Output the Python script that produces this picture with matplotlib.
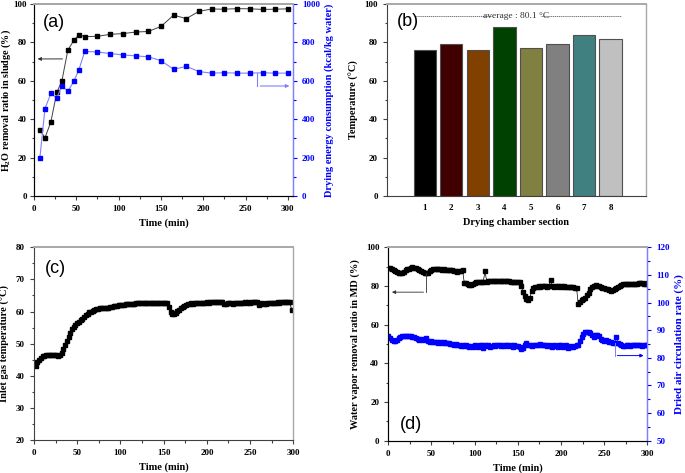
import numpy as np
import matplotlib.pyplot as plt
from matplotlib.ticker import AutoMinorLocator, MultipleLocator

plt.rcParams['font.family'] = 'Liberation Serif'
plt.rcParams['font.weight'] = 'bold'
plt.rcParams['mathtext.fontset'] = 'custom'
plt.rcParams['mathtext.rm'] = 'Liberation Serif:bold'
plt.rcParams['mathtext.bf'] = 'Liberation Serif:bold'

# (a) removal ratio and energy consumption
time_a = [7, 13, 20, 27, 33, 40, 47, 53, 60, 75, 90, 105, 120, 135, 150, 165, 180, 195,
          210, 225, 240, 255, 270, 285, 300]
removal_a = [34.5, 30.3, 38.7, 54.0, 60.0, 76.0, 81.0, 84.0, 83.0, 83.2, 84.2, 84.6, 85.4,
             85.7, 88.3, 94.2, 92.4, 96.2, 97.4, 97.3, 97.6, 97.5, 97.2, 97.3, 97.5]
energy_a = [200, 455, 535, 510, 575, 545, 597, 657, 753, 750, 742, 735, 730, 725, 705, 660,
            675, 648, 640, 642, 640, 640, 642, 640, 640]

# (b) chamber temperatures
sections = [1, 2, 3, 4, 5, 6, 7, 8]
temps_b = [76, 79, 76, 88, 77, 79, 84, 82]
bar_colors = ['#000000', '#400000', '#804000', '#004000', '#808040', '#808080', '#408080', '#c0c0c0']
avg_temp = 80.1

# (c) inlet gas temperature, every 2 min
time_c = list(range(2, 300, 2))
inlet_c = [43.0, 44.2, 45.0, 45.6, 46.0, 46.3, 46.5, 46.6, 46.6, 46.6,
           46.5, 46.5, 46.4, 46.3, 46.4, 47.0, 48.3, 49.6, 50.8, 52.0,
           53.4, 54.6, 55.3, 55.8, 56.3, 56.8, 57.3, 57.8, 58.4, 58.9,
           59.3, 59.7, 60.0, 60.3, 60.5, 60.7, 60.9, 61.0, 61.0, 61.0,
           61.0, 61.1, 61.2, 61.3, 61.5, 61.6, 61.7, 61.8, 61.9, 62.0,
           62.0, 62.1, 62.2, 62.2, 62.3, 62.3, 62.4, 62.4, 62.5, 62.5,
           62.5, 62.6, 62.5, 62.6, 62.6, 62.5, 62.6, 62.7, 62.6, 62.6,
           62.7, 62.6, 62.7, 62.8, 62.8, 62.7, 62.8, 61.5, 60.0, 59.3,
           59.2, 59.6, 60.1, 60.6, 61.0, 61.4, 61.8, 62.0, 62.2, 62.4,
           62.5, 62.4, 62.6, 62.5, 62.6, 62.7, 62.8, 62.7, 62.8, 62.9,
           62.8, 62.9, 63.0, 62.9, 63.0, 63.0, 62.9, 63.1, 63.0, 62.2,
           62.4, 62.6, 62.5, 62.6, 62.3, 62.5, 62.7, 62.6, 62.8, 62.7,
           62.8, 62.9, 62.8, 62.9, 62.8, 62.9, 63.0, 63.0, 62.9, 62.1,
           62.4, 62.6, 62.4, 62.3, 62.5, 62.6, 62.7, 62.8, 62.7, 62.8,
           62.9, 62.8, 62.9, 63.0, 62.9, 63.0, 63.0, 62.9, 60.5]

# (d) water vapor removal ratio and dried air circulation rate, every 2 min
time_d = list(range(0, 302, 2))
removal_d = [89.5, 89.3, 88.8, 88.2, 87.5, 87.0, 86.6, 86.5, 86.8, 87.4,
             88.0, 88.6, 89.0, 89.4, 89.6, 89.5, 89.2, 88.7, 88.2, 87.6,
             87.1, 86.8, 86.6, 86.9, 87.8, 88.5, 88.9, 89.0, 88.8, 88.7,
             88.6, 88.5, 88.6, 88.4, 88.5, 88.3, 88.4, 88.2, 87.8, 87.5,
             87.4, 87.6, 87.9, 88.0, 81.6, 81.5, 81.0, 80.5, 80.4, 81.0,
             81.6, 81.9, 82.1, 82.0, 82.2, 82.3, 87.5, 82.3, 82.4, 82.5,
             82.4, 82.6, 82.5, 82.7, 82.6, 82.7, 82.6, 82.6, 82.5, 82.4,
             82.4, 82.3, 82.2, 82.2, 82.0, 82.0, 81.8, 80.0, 77.0, 75.0,
             73.5, 73.0, 74.0, 77.5, 79.2, 79.6, 79.7, 79.8, 79.7, 79.8,
             79.9, 79.8, 79.7, 79.9, 83.0, 79.8, 79.7, 79.9, 79.8, 79.7,
             79.8, 79.6, 79.8, 79.7, 79.5, 79.6, 79.4, 79.3, 79.2, 79.0,
             70.5, 71.5, 72.5, 73.3, 74.0, 75.2, 76.5, 78.5, 79.6, 80.0,
             80.5, 80.2, 79.8, 79.4, 79.2, 79.0, 78.6, 78.2, 77.9, 77.5,
             77.8, 78.3, 78.8, 79.5, 80.2, 80.6, 81.0, 81.0, 80.9, 80.8,
             80.9, 80.8, 81.0, 81.1, 81.2, 81.5, 81.4, 81.3, 81.2, 81.2,
             81.3]
circulation_d = [87.8, 87.0, 86.3, 86.0, 86.2, 86.5, 87.2, 87.6, 87.8, 87.9,
                 88.0, 87.9, 87.8, 87.9, 87.6, 87.5, 87.2, 86.9, 86.6, 86.8,
                 86.5, 86.9, 87.0, 86.2, 85.9, 86.2, 85.6, 85.9, 85.6, 85.4,
                 85.6, 85.5, 85.6, 85.4, 85.3, 85.4, 85.1, 85.0, 84.8, 84.9,
                 84.5, 84.6, 84.4, 84.6, 84.3, 84.5, 84.3, 84.0, 84.4, 83.8,
                 84.6, 84.2, 83.8, 84.5, 84.8, 83.6, 84.7, 84.2, 84.5, 83.9,
                 84.4, 84.6, 84.2, 84.5, 84.7, 84.4, 84.6, 84.2, 84.5, 84.7,
                 84.3, 84.6, 84.0, 84.5, 84.2, 84.4, 83.8, 83.2, 83.5, 84.6,
                 85.3, 84.8, 84.5, 84.3, 84.6, 84.8, 84.5, 84.7, 84.9, 84.6,
                 84.8, 84.5, 84.2, 84.7, 84.3, 84.0, 84.6, 84.4, 83.8, 84.5,
                 84.7, 83.8, 84.2, 84.5, 83.6, 83.9, 84.2, 83.8, 84.4, 84.6,
                 84.5, 86.0, 87.6, 88.6, 89.2, 89.4, 89.3, 89.0, 88.3, 87.6,
                 88.3, 88.4, 88.0, 86.8, 86.5, 86.0, 86.3, 86.1, 85.8, 85.7,
                 85.5, 85.2, 87.4, 85.4, 85.0, 84.6, 84.3, 84.2, 84.5, 84.6,
                 84.4, 84.6, 84.5, 84.7, 84.6, 84.8, 84.6, 84.3, 84.7, 84.5,
                 84.6]

BLUE = '#0000ff'
LIGHTBLUE = '#8080ff'
GRAY = '#a8a8a8'
TICK_FS = 6.5
LABEL_FS = 7.5


def style_axes(ax, right_color=GRAY):
    ax.spines['top'].set_color(GRAY)
    ax.spines['top'].set_linewidth(1.4)
    ax.spines['right'].set_color(right_color)
    ax.spines['right'].set_linewidth(1.0)
    ax.spines['left'].set_color('#404040')
    ax.spines['bottom'].set_color('#404040')
    ax.tick_params(which='both', direction='out', top=False, right=False,
                   labelsize=TICK_FS, width=0.8, color='#404040')
    ax.tick_params(which='major', length=3)
    ax.tick_params(which='minor', length=1.8)
    for lab in ax.get_xticklabels() + ax.get_yticklabels():
        lab.set_fontweight('bold')


def style_twin(ax2, color):
    ax2.spines['right'].set_color(LIGHTBLUE)
    ax2.spines['top'].set_color(GRAY)
    ax2.spines['top'].set_linewidth(1.4)
    ax2.tick_params(which='both', direction='out', labelsize=TICK_FS, colors=color,
                    width=0.8)
    ax2.tick_params(which='major', length=3)
    ax2.tick_params(which='minor', length=1.8)
    for lab in ax2.get_yticklabels():
        lab.set_fontweight('bold')


def panel_label(ax, txt, x, y, va='top'):
    ax.text(x, y, txt, transform=ax.transAxes, fontsize=13, family='Liberation Sans',
            fontweight='normal', ha='left', va=va)


fig = plt.figure(figsize=(6.85, 4.73), dpi=100)
ax_a = fig.add_axes([0.0496, 0.5856, 0.3781, 0.4059])
ax_b = fig.add_axes([0.5645, 0.5856, 0.3785, 0.4059])
ax_c = fig.add_axes([0.0496, 0.0698, 0.3786, 0.4074])
ax_d = fig.add_axes([0.5669, 0.0683, 0.3781, 0.4089])

# ---- (a)
ax_a.plot(time_a, removal_a, '-s', color='#404040', mfc='black', mec='black', ms=3.2, lw=0.7)
ax_a.set_xlim(0, 306)
ax_a.set_ylim(0, 100)
ax_a.xaxis.set_major_locator(MultipleLocator(50))
ax_a.yaxis.set_major_locator(MultipleLocator(20))
ax_a.xaxis.set_minor_locator(AutoMinorLocator(2))
ax_a.yaxis.set_minor_locator(AutoMinorLocator(2))
ax_a.set_xlabel('Time (min)', fontsize=LABEL_FS, fontweight='bold', labelpad=4)
ax_a.set_ylabel(r'H$_{2}$O removal ratio in sludge (%)', fontsize=7.3, fontweight='bold')
style_axes(ax_a, right_color=LIGHTBLUE)
ax_a.tick_params(axis='y', pad=2)
ax_a.yaxis.set_label_coords(-0.08, 0.5)
ax_a.annotate('', xy=(1, 71.4), xytext=(37, 71.4),
              arrowprops=dict(arrowstyle='-|>', color='#303030', lw=0.7, mutation_scale=5))
panel_label(ax_a, '(a)', 0.035, 0.95)

ax_a2 = ax_a.twinx()
ax_a2.plot(time_a, energy_a, '-s', color=LIGHTBLUE, mfc=BLUE, mec=BLUE, ms=3.2, lw=0.8)
ax_a2.set_ylim(0, 1000)
ax_a2.yaxis.set_major_locator(MultipleLocator(200))
ax_a2.yaxis.set_minor_locator(AutoMinorLocator(2))
ax_a2.set_ylabel('Drying energy consumption (kcal/kg water)', fontsize=LABEL_FS,
                 fontweight='bold', color=BLUE, labelpad=3)
style_twin(ax_a2, BLUE)
ax_a2.plot([264, 264], [640, 573], color=LIGHTBLUE, lw=0.8)
ax_a2.annotate('', xy=(305, 573), xytext=(264, 573),
               arrowprops=dict(arrowstyle='-|>', color=LIGHTBLUE, lw=0.8, mutation_scale=5))

# ---- (b)
ax_b.bar(sections, temps_b, width=0.84, color=bar_colors, edgecolor='#505050', linewidth=0.8)
ax_b.set_xlim(-0.43, 9.33)
ax_b.set_ylim(0, 100)
ax_b.set_xticks(sections)
ax_b.yaxis.set_major_locator(MultipleLocator(20))
ax_b.yaxis.set_minor_locator(AutoMinorLocator(2))
ax_b.set_xlabel('Drying chamber section', fontsize=LABEL_FS, fontweight='bold', labelpad=4)
ax_b.set_ylabel('Temperature (°C)', fontsize=LABEL_FS, fontweight='bold', labelpad=4)
style_axes(ax_b)
ax_b.tick_params(axis='x', length=0, pad=6)
ax_b.plot([0.62, 3.55], [93.8, 93.8], ls=(0, (1.5, 0.8)), color='#606060', lw=0.6)
ax_b.plot([5.38, 8.4], [93.8, 93.8], ls=(0, (1.5, 0.8)), color='#606060', lw=0.6)
ax_b.text(4.46, 93.8, 'average : %.1f °C' % avg_temp, ha='center', va='center',
          fontsize=6.8, fontweight='normal', color='#303030')
panel_label(ax_b, '(b)', 0.04, 0.955)

# ---- (c)
ax_c.plot(time_c, inlet_c, '-s', color='black', ms=3.4, lw=0.6)
ax_c.set_xlim(0, 300)
ax_c.set_ylim(20, 80)
ax_c.xaxis.set_major_locator(MultipleLocator(50))
ax_c.yaxis.set_major_locator(MultipleLocator(10))
ax_c.xaxis.set_minor_locator(AutoMinorLocator(2))
ax_c.yaxis.set_minor_locator(AutoMinorLocator(2))
ax_c.set_xlabel('Time (min)', fontsize=LABEL_FS, fontweight='bold', labelpad=4)
ax_c.set_ylabel('Inlet gas temperature (°C)', fontsize=LABEL_FS, fontweight='bold', labelpad=4)
style_axes(ax_c)
panel_label(ax_c, '(c)', 0.042, 0.935)

# ---- (d)
ax_d.plot(time_d, removal_d, '-s', color='black', ms=3.3, lw=0.5)
ax_d.set_xlim(0, 300)
ax_d.set_ylim(0, 100)
ax_d.xaxis.set_major_locator(MultipleLocator(50))
ax_d.yaxis.set_major_locator(MultipleLocator(20))
ax_d.xaxis.set_minor_locator(AutoMinorLocator(2))
ax_d.yaxis.set_minor_locator(AutoMinorLocator(2))
ax_d.set_xlabel('Time (min)', fontsize=LABEL_FS, fontweight='bold', labelpad=4)
ax_d.set_ylabel('Water vapor removal ratio in MD (%)', fontsize=LABEL_FS, fontweight='bold', labelpad=4)
style_axes(ax_d, right_color=LIGHTBLUE)
ax_d.plot([44, 44], [86.6, 76.8], color='#303030', lw=0.6)
ax_d.annotate('', xy=(1, 76.8), xytext=(44, 76.8),
              arrowprops=dict(arrowstyle='-|>', color='#303030', lw=0.6, mutation_scale=5))
panel_label(ax_d, '(d)', 0.045, 0.04, va='bottom')

ax_d2 = ax_d.twinx()
ax_d2.plot(time_d, circulation_d, '-s', color=BLUE, ms=3.3, lw=0.5)
ax_d2.set_ylim(50, 120)
ax_d2.yaxis.set_major_locator(MultipleLocator(10))
ax_d2.yaxis.set_minor_locator(AutoMinorLocator(2))
ax_d2.set_ylabel('Dried air circulation rate (%)', fontsize=LABEL_FS + 0.5,
                 fontweight='bold', color=BLUE, labelpad=3)
style_twin(ax_d2, BLUE)
ax_d2.plot([262, 262], [85.4, 80.8], color=LIGHTBLUE, lw=0.7)
ax_d2.annotate('', xy=(299, 80.8), xytext=(262, 80.8),
               arrowprops=dict(arrowstyle='-|>', color=BLUE, lw=0.7, mutation_scale=5))

fig.savefig('out.png', dpi=100)
